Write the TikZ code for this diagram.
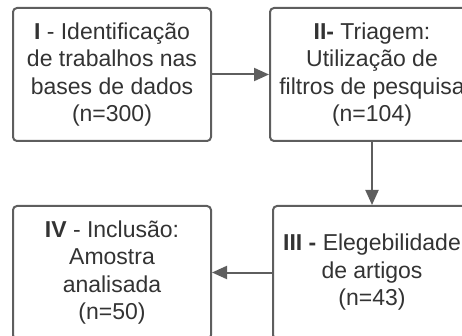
\documentclass[tikz,border=0pt]{standalone}
\usepackage{fontspec}
\setmainfont{Liberation Sans}
\usetikzlibrary{arrows.meta}
\definecolor{linha}{HTML}{5E5E5E}
\definecolor{texto}{HTML}{333333}
\begin{document}
\begin{tikzpicture}[x=1pt, y=-1pt,
    etapa/.style={draw=linha, line width=2pt, rounded corners=4pt, text=texto,
      align=center, inner sep=0pt, minimum width=198pt, minimum height=133pt,
      font=\fontsize{23}{27.5}\selectfont},
    seta/.style={draw=linha, line width=2pt, -{Triangle[length=15pt, width=13pt]}}]
      \clip (0,0) rectangle (462,336);

      % Etapas
      \node[etapa] (I) at (112,74.5) {\textbf{I} - Identificação\\de trabalhos nas\\bases de dados\\(n=300)};
      \node[etapa, minimum width=204pt] (II) at (372,74.5) {\textbf{II-} Triagem:\\Utilização de\\filtros de pesquisa\\(n=104)};
      \node[etapa] (III) at (372,272.5) {\textbf{III -} Elegebilidade\\de artigos\\(n=43)};
      \node[etapa] (IV) at (112,272.5) {\textbf{IV} - Inclusão:\\Amostra\\analisada\\(n=50)};

      % Fluxo entre as etapas
      \draw[seta] (I) -- (II);
      \draw[seta] (II) -- (III);
      \draw[seta] (III) -- (IV);

    \end{tikzpicture}
\end{document}
